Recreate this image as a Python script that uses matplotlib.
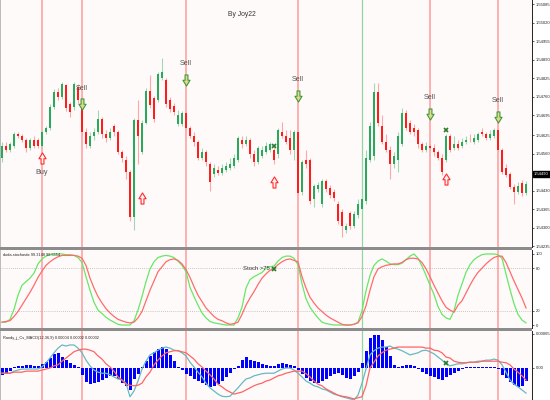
import matplotlib
matplotlib.use("Agg")
import matplotlib.pyplot as plt
import numpy as np
from matplotlib.patches import Rectangle
from matplotlib.path import Path

plt.rcParams["font.family"] = ["Liberation Sans", "DejaVu Sans"]

# -----------------------------------------------------------------------------
# Price candles (5-digit quotes), one entry per bar
# -----------------------------------------------------------------------------
opens = [
    1.54547, 1.54589, 1.54575, 1.54589, 1.54631, 1.54624, 1.54610, 1.54582, 1.54607, 1.54607,
    1.54586, 1.54635, 1.54649, 1.54726, 1.54778, 1.54761, 1.54803, 1.54736, 1.54726, 1.54796,
    1.54754, 1.54638, 1.54589, 1.54624, 1.54635, 1.54684, 1.54631, 1.54614, 1.54659, 1.54638,
    1.54568, 1.54540, 1.54498, 1.54337, 1.54680, 1.54568, 1.54670, 1.54782, 1.54757, 1.54750,
    1.54827, 1.54820, 1.54750, 1.54729, 1.54666, 1.54663, 1.54705, 1.54652, 1.54624, 1.54600,
    1.54547, 1.54568, 1.54526, 1.54488, 1.54505, 1.54491, 1.54502, 1.54512, 1.54519, 1.54540,
    1.54610, 1.54596, 1.54607, 1.54561, 1.54530, 1.54551, 1.54568, 1.54575, 1.54575, 1.54558,
    1.54635, 1.54624, 1.54614, 1.54575, 1.54635, 1.54425, 1.54540, 1.54537, 1.54400, 1.54435,
    1.54383, 1.54463, 1.54439, 1.54425, 1.54383, 1.54355, 1.54292, 1.54351, 1.54306, 1.54344,
    1.54365, 1.54393, 1.54540, 1.54551, 1.54778, 1.54656, 1.54603, 1.54575, 1.54523, 1.54540,
    1.54593, 1.54705, 1.54670, 1.54652, 1.54642, 1.54593, 1.54575, 1.54589, 1.54582, 1.54565,
    1.54547, 1.54540, 1.54621, 1.54579, 1.54593, 1.54586, 1.54600, 1.54610, 1.54600, 1.54610,
    1.54638, 1.54628, 1.54617, 1.54624, 1.54642, 1.54575, 1.54512, 1.54488, 1.54442, 1.54425,
    1.54456, 1.54421]
closes = [
    1.54589, 1.54575, 1.54593, 1.54631, 1.54624, 1.54610, 1.54579, 1.54607, 1.54589, 1.54586,
    1.54635, 1.54649, 1.54726, 1.54778, 1.54761, 1.54806, 1.54722, 1.54708, 1.54806, 1.54750,
    1.54638, 1.54593, 1.54624, 1.54635, 1.54684, 1.54628, 1.54614, 1.54638, 1.54635, 1.54568,
    1.54547, 1.54498, 1.54337, 1.54680, 1.54621, 1.54670, 1.54782, 1.54733, 1.54684, 1.54841,
    1.54848, 1.54736, 1.54719, 1.54708, 1.54698, 1.54705, 1.54652, 1.54624, 1.54600, 1.54547,
    1.54568, 1.54530, 1.54460, 1.54512, 1.54491, 1.54509, 1.54516, 1.54526, 1.54547, 1.54617,
    1.54596, 1.54610, 1.54558, 1.54530, 1.54582, 1.54575, 1.54589, 1.54593, 1.54540, 1.54642,
    1.54621, 1.54603, 1.54572, 1.54635, 1.54421, 1.54530, 1.54523, 1.54393, 1.54446, 1.54449,
    1.54463, 1.54435, 1.54414, 1.54404, 1.54323, 1.54306, 1.54306, 1.54306, 1.54348, 1.54383,
    1.54400, 1.54547, 1.54656, 1.54778, 1.54670, 1.54603, 1.54575, 1.54523, 1.54551, 1.54624,
    1.54705, 1.54652, 1.54638, 1.54635, 1.54593, 1.54575, 1.54589, 1.54582, 1.54565, 1.54547,
    1.54495, 1.54621, 1.54575, 1.54593, 1.54582, 1.54603, 1.54610, 1.54607, 1.54617, 1.54628,
    1.54628, 1.54617, 1.54631, 1.54645, 1.54575, 1.54495, 1.54484, 1.54442, 1.54425, 1.54446,
    1.54421, 1.54453]
highs = [
    1.54600, 1.54600, 1.54600, 1.54635, 1.54638, 1.54631, 1.54617, 1.54617, 1.54624, 1.54614,
    1.54642, 1.54656, 1.54736, 1.54789, 1.54792, 1.54813, 1.54806, 1.54743, 1.54813, 1.54806,
    1.54761, 1.54652, 1.54638, 1.54652, 1.54715, 1.54691, 1.54645, 1.54649, 1.54666, 1.54645,
    1.54575, 1.54551, 1.54505, 1.54687, 1.54750, 1.54680, 1.54792, 1.54838, 1.54764, 1.54848,
    1.54897, 1.54827, 1.54761, 1.54740, 1.54715, 1.54712, 1.54712, 1.54659, 1.54635, 1.54610,
    1.54579, 1.54575, 1.54533, 1.54523, 1.54516, 1.54523, 1.54530, 1.54547, 1.54558, 1.54624,
    1.54624, 1.54621, 1.54614, 1.54572, 1.54589, 1.54589, 1.54603, 1.54600, 1.54582, 1.54652,
    1.54673, 1.54642, 1.54645, 1.54642, 1.54642, 1.54540, 1.54575, 1.54544, 1.54453, 1.54460,
    1.54470, 1.54470, 1.54449, 1.54435, 1.54393, 1.54365, 1.54316, 1.54358, 1.54358, 1.54400,
    1.54418, 1.54575, 1.54673, 1.54810, 1.54810, 1.54698, 1.54628, 1.54586, 1.54565, 1.54635,
    1.54722, 1.54715, 1.54680, 1.54663, 1.54652, 1.54603, 1.54600, 1.54596, 1.54593, 1.54575,
    1.54558, 1.54628, 1.54628, 1.54621, 1.54610, 1.54614, 1.54621, 1.54628, 1.54628, 1.54635,
    1.54652, 1.54638, 1.54642, 1.54652, 1.54649, 1.54582, 1.54523, 1.54498, 1.54453, 1.54460,
    1.54467, 1.54463]
lows = [
    1.54533, 1.54565, 1.54568, 1.54582, 1.54614, 1.54603, 1.54565, 1.54575, 1.54579, 1.54579,
    1.54582, 1.54628, 1.54642, 1.54719, 1.54750, 1.54754, 1.54712, 1.54691, 1.54715, 1.54740,
    1.54624, 1.54582, 1.54582, 1.54610, 1.54628, 1.54617, 1.54603, 1.54607, 1.54624, 1.54558,
    1.54533, 1.54470, 1.54323, 1.54292, 1.54523, 1.54561, 1.54663, 1.54722, 1.54673, 1.54743,
    1.54820, 1.54726, 1.54708, 1.54698, 1.54656, 1.54656, 1.54642, 1.54617, 1.54589, 1.54540,
    1.54537, 1.54516, 1.54428, 1.54477, 1.54484, 1.54484, 1.54495, 1.54505, 1.54512, 1.54533,
    1.54582, 1.54586, 1.54547, 1.54519, 1.54523, 1.54544, 1.54558, 1.54568, 1.54526, 1.54547,
    1.54614, 1.54596, 1.54558, 1.54540, 1.54414, 1.54414, 1.54512, 1.54383, 1.54372, 1.54425,
    1.54372, 1.54425, 1.54404, 1.54393, 1.54313, 1.54267, 1.54281, 1.54295, 1.54299, 1.54334,
    1.54358, 1.54383, 1.54533, 1.54540, 1.54659, 1.54593, 1.54565, 1.54470, 1.54512, 1.54498,
    1.54586, 1.54642, 1.54628, 1.54624, 1.54582, 1.54565, 1.54568, 1.54575, 1.54554, 1.54537,
    1.54484, 1.54530, 1.54565, 1.54572, 1.54575, 1.54579, 1.54593, 1.54600, 1.54593, 1.54603,
    1.54621, 1.54610, 1.54610, 1.54617, 1.54568, 1.54488, 1.54477, 1.54435, 1.54383, 1.54418,
    1.54411, 1.54414]

# -----------------------------------------------------------------------------
# Stochastic (%K green, signal red)
# -----------------------------------------------------------------------------
stoch_k = [
    4, 4, 8, 22, 42, 56, 61, 66, 73, 86,
    93, 97, 99, 100, 100, 100, 99, 99, 98, 95,
    88, 68, 49, 32, 21, 16, 11, 7, 4, 1,
    0, 0, 0, 6, 21, 40, 61, 79, 89, 95,
    97, 98, 97, 95, 90, 84, 75, 53, 40, 28,
    17, 10, 5, 3, 2, 1, 0, 0, 0, 10,
    25, 52, 64, 68, 71, 74, 80, 82, 83, 90,
    95, 97, 97, 94, 85, 58, 37, 25, 17, 10,
    4, 2, 1, 0, 0, 0, 0, 0, 1, 4,
    20, 48, 70, 84, 90, 93, 90, 86, 85, 85,
    87, 92, 97, 100, 94, 83, 70, 56, 43, 26,
    15, 10, 8, 20, 42, 58, 74, 85, 92, 96,
    99, 100, 100, 100, 99, 94, 72, 50, 30, 15,
    7, 3]
stoch_d = [
    4, 5, 6, 12, 19, 28, 37, 46, 56, 67,
    76, 84, 89, 93, 96, 98, 98, 98, 98, 97,
    94, 84, 66, 52, 40, 31, 23, 17, 12, 8,
    6, 4, 3, 4, 10, 19, 34, 49, 62, 75,
    82, 89, 92, 93, 91, 86, 78, 67, 54, 42,
    33, 24, 18, 12, 8, 6, 3, 1, 2, 4,
    15, 28, 38, 47, 57, 66, 72, 77, 80, 85,
    89, 92, 93, 91, 89, 68, 52, 39, 31, 24,
    19, 14, 10, 7, 4, 1, 0, 0, 1, 3,
    12, 27, 49, 68, 79, 82, 84, 85, 86, 86,
    88, 92, 94, 94, 93, 88, 79, 68, 56, 45,
    34, 25, 21, 18, 28, 34, 45, 56, 66, 74,
    80, 86, 91, 95, 97, 97, 88, 75, 62, 50,
    38, 24]

# -----------------------------------------------------------------------------
# MACD, in points (1 point = 0.00001)
# -----------------------------------------------------------------------------
macd_hist_pts = [
    -13, -11, -6, 2, 4, 4, 6, 6, 4, 4,
    8, 11, 19, 27, 29, 21, 15, 10, 6, 2,
    -13, -27, -31, -29, -27, -23, -19, -15, -15, -21,
    -29, -34, -42, -21, -11, 2, 13, 23, 31, 36,
    40, 36, 25, 13, 2, -4, -11, -15, -21, -25,
    -29, -33, -36, -34, -31, -25, -17, -10, -2, 4,
    15, 21, 15, 13, 11, 8, 6, 4, 4, 8,
    10, 8, 6, 4, -4, -11, -19, -25, -29, -29,
    -25, -21, -15, -11, -10, -13, -19, -21, -15, -8,
    10, 33, 57, 63, 63, 54, 40, 23, 6, 2,
    4, 6, 6, 4, -2, -8, -11, -15, -17, -21,
    -23, -17, -13, -10, -6, -2, 2, 2, 2, 2,
    2, 2, 2, 2, -2, -13, -19, -27, -33, -36,
    -34, -25]
macd_main_pts = [
    -10, -10, -10, -6, -4, -2, -2, -2, -2, -2,
    2, 10, 19, 29, 38, 44, 42, 44, 44, 38,
    29, 15, 4, -4, -8, -10, -10, -13, -17, -21,
    -23, -29, -55, -44, -25, -2, 13, 25, 29, 34,
    38, 40, 38, 34, 33, 29, 23, 11, 2, -8,
    -17, -29, -38, -44, -50, -54, -55, -54, -46, -38,
    -29, -21, -19, -15, -13, -11, -10, -10, -10, -6,
    -2, 0, 0, -4, -10, -17, -25, -29, -34, -36,
    -40, -42, -46, -50, -52, -55, -57, -59, -61, -52,
    -29, -2, 25, 33, 38, 40, 40, 42, 38, 36,
    33, 29, 25, 27, 29, 33, 34, 31, 27, 21,
    15, 8, 4, 6, 8, 8, 10, 11, 11, 13,
    13, 15, 15, 17, 15, 6, -8, -23, -31, -36,
    -42, -48]
macd_signal_pts = [
    -10, -10, -10, -8, -8, -8, -6, -6, -6, -6,
    -4, -2, 0, 4, 6, 13, 19, 25, 31, 34,
    36, 36, 34, 31, 23, 17, 8, 2, -6, -17,
    -23, -31, -33, -34, -33, -29, -17, -8, 6, 15,
    23, 29, 31, 33, 33, 31, 29, 23, 17, 8,
    2, -6, -13, -21, -31, -36, -42, -46, -50, -48,
    -46, -42, -38, -34, -31, -29, -25, -23, -19, -15,
    -13, -10, -8, -6, -6, -6, -11, -17, -25, -31,
    -34, -40, -44, -48, -52, -54, -55, -57, -59, -57,
    -55, -34, 0, 11, 23, 29, 34, 36, 38, 40,
    40, 40, 40, 40, 40, 40, 38, 38, 34, 33,
    29, 21, 19, 13, 11, 10, 10, 11, 11, 11,
    13, 13, 13, 13, 13, 11, 10, 6, -2, -8,
    -15, -23]

# -----------------------------------------------------------------------------
# Signals and scale labels
# -----------------------------------------------------------------------------
red_line_bars = [10, 20, 46, 74, 107, 124]
green_line_bars = [90]
sell_bars = [20, 46, 74, 107, 124]
sell_levels = [1.54734, 1.54820, 1.54764, 1.54701, 1.54691]
buy_bars = [10, 35, 68, 111]
buy_levels = [1.54547, 1.54404, 1.54461, 1.54472]
buy_label_bar = 10
cross_bars = [68, 111]
cross_prices = [1.54586, 1.54645]
stoch_cross_bar, stoch_cross_val = 68, 79
macd_cross_bar, macd_cross_pts = 111, 10

price_ticks = [1.55085, 1.55020, 1.54955, 1.54890, 1.54825, 1.54760, 1.54695,
               1.54625, 1.54560, 1.54430, 1.54365, 1.54300, 1.54235]
current_price = 1.54490
stoch_ticks = [100, 80, 20, 0]
macd_ticks_pts = [65, 0]
macd_tick_labels = ["0.00065", "0.00"]

GREEN = "#2aa85c"
RED = "#ff1c1c"
GREEN_WICK = "#9fd9b2"
RED_WICK = "#ffa6a6"
BG = "#fffafa"
VLINE_RED = "#ff9a9a"
VLINE_GREEN = "#8fd6a2"

o = np.array(opens)
c = np.array(closes)
h = np.array(highs)
l = np.array(lows)
idx = np.arange(len(o))
pt = 1e-5

fig = plt.figure(figsize=(5.5, 4.0), dpi=100)
fig.patch.set_facecolor("white")
W = 532 / 550
ax_p = fig.add_axes([0.0, 0.3825, W, 0.6175])
ax_s = fig.add_axes([0.0, 0.18, W, 0.195])
ax_m = fig.add_axes([0.0, 0.0, W, 0.1725])

for ax in (ax_p, ax_s, ax_m):
    ax.set_facecolor(BG)
    ax.set_xlim(-0.5, len(o) + 0.5)
    ax.set_xticks([])
    ax.yaxis.tick_right()
    ax.tick_params(axis="y", labelsize=3.0, length=1.5, width=0.5, pad=1, colors="#222222")
    for side in ("top", "bottom"):
        ax.spines[side].set_visible(False)
    ax.spines["left"].set_color("#b0b0b0")
    ax.spines["left"].set_linewidth(1.2)
    ax.spines["right"].set_color("#222222")
    ax.spines["right"].set_linewidth(0.7)
    for b in red_line_bars:
        ax.axvline(b, color=VLINE_RED, lw=1.1, zorder=1)
    for b in green_line_bars:
        ax.axvline(b, color=VLINE_GREEN, lw=0.9, zorder=1)

# panel separators
for y0 in (0.375, 0.1725):
    fig.add_artist(Rectangle((0, y0), W, 0.0075, transform=fig.transFigure,
                             color="#8c8c8c", lw=0))

# ---- main price panel ----
up = c >= o
ax_p.vlines(idx, l, h, colors=np.where(up, GREEN_WICK, RED_WICK), lw=0.8, zorder=2)
ax_p.bar(idx, c - o, bottom=o, width=0.66, color=np.where(up, GREEN, RED), lw=0, zorder=3)
ax_p.set_ylim(1.54233, 1.55100)
ax_p.set_yticks(price_ticks)
ax_p.set_yticklabels([f"{v:.5f}" for v in price_ticks])
ax_p.text(1.004, current_price, f"{current_price:.5f}", transform=ax_p.get_yaxis_transform(),
          ha="left", va="center", fontsize=3.0, color="white",
          bbox=dict(boxstyle="square,pad=0.25", fc="black", ec="black"))

down_arrow = Path([(-0.13, 0.5), (0.13, 0.5), (0.13, 0.02), (0.32, 0.02), (0, -0.5),
                   (-0.32, 0.02), (-0.13, 0.02), (-0.13, 0.5)], closed=True)
up_arrow = Path([(-0.13, -0.5), (0.13, -0.5), (0.13, -0.02), (0.32, -0.02), (0, 0.5),
                 (-0.32, -0.02), (-0.13, -0.02), (-0.13, -0.5)], closed=True)
ax_p.plot(sell_bars, sell_levels, ls="none", marker=down_arrow, ms=8,
          mfc="#e4d78c", mec="#3f9a3f", mew=0.8, zorder=6)
for b, lv in zip(sell_bars, sell_levels):
    ax_p.annotate("Sell", (b, lv), xytext=(0, 11.5), textcoords="offset points",
                  ha="center", va="center", fontsize=5.2, color="#555555", zorder=6)
ax_p.plot(buy_bars, buy_levels, ls="none", marker=up_arrow, ms=8,
          mfc="#fff2f2", mec="#ff2a2a", mew=0.8, zorder=6)
ax_p.annotate("Buy", (buy_label_bar, buy_levels[buy_bars.index(buy_label_bar)]),
              xytext=(0, -11), textcoords="offset points", ha="center", va="center",
              fontsize=5.2, color="#555555", zorder=6)
ax_p.plot(cross_bars, cross_prices, ls="none", marker="x", ms=3.2, mew=1.2,
          color="#2a7a2a", zorder=7)
ax_p.text(0.455, 0.943, "By Joy22", transform=ax_p.transAxes, ha="center", va="center",
          fontsize=4.9, color="#333333")

# ---- stochastic panel ----
ax_s.plot(idx, stoch_k, color="#66e866", lw=0.9, zorder=3)
ax_s.plot(idx, stoch_d, color="#ff6b6b", lw=0.9, zorder=3)
for lvl in (80, 20):
    ax_s.axhline(lvl, color="#b4b4b4", ls=(0, (1, 1.5)), lw=0.6, zorder=2)
ax_s.set_ylim(-4.2, 105.6)
ax_s.set_yticks(stoch_ticks)
ax_s.set_yticklabels([str(v) for v in stoch_ticks])
ax_s.text(0.006, 0.93, f"doda-stochastic {99.3148} {98.5554}", transform=ax_s.transAxes,
          ha="left", va="center", fontsize=2.8, color="#222222")
ax_s.plot([stoch_cross_bar], [stoch_cross_val], ls="none", marker="x", ms=3.2, mew=1.2,
          color="#2a7a2a", zorder=7)
ax_s.annotate("Stoch >75", (stoch_cross_bar, stoch_cross_val), xytext=(-3, 0),
              textcoords="offset points", ha="right", va="center", fontsize=4.2, color="#333333")

# ---- MACD panel ----
ax_m.bar(idx, np.array(macd_hist_pts) * pt, width=0.75, color="#0000ff", lw=0, zorder=2)
ax_m.plot(idx, np.array(macd_main_pts) * pt, color="#66b9c2", lw=0.9, zorder=3)
ax_m.plot(idx, np.array(macd_signal_pts) * pt, color="#ff6464", lw=0.9, zorder=3)
ax_m.plot([macd_cross_bar], [macd_cross_pts * pt], ls="none", marker="x", ms=3.2, mew=1.2,
          color="#2a7a2a", zorder=7)
ax_m.set_ylim(-61.2 * pt, 70.7 * pt)
ax_m.set_yticks(np.array(macd_ticks_pts) * pt)
ax_m.set_yticklabels(macd_tick_labels)
ax_m.text(0.006, 0.9, "Randy_j_Cs_MACD(12,36,9) 0.00004 0.00002 0.00002", transform=ax_m.transAxes,
          ha="left", va="center", fontsize=2.8, color="#222222")

fig.savefig("out.png", dpi=100, facecolor=fig.get_facecolor())
plt.close(fig)
